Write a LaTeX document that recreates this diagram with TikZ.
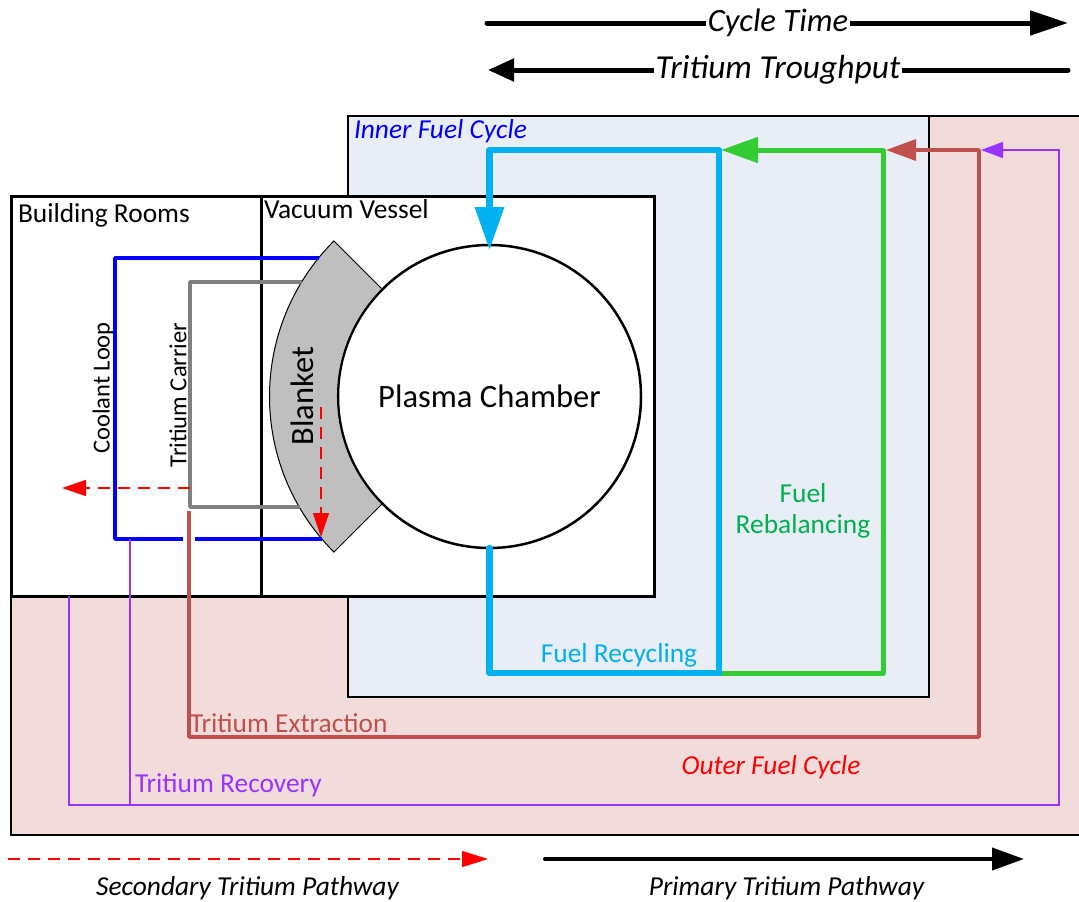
\documentclass[tikz,border=0pt]{standalone}
\usepackage{fontspec}
\setmainfont{Carlito}
\usetikzlibrary{arrows.meta}
\definecolor{coolblue}{HTML}{0000FF}
\definecolor{carrgray}{HTML}{808080}
\definecolor{fuelblue}{HTML}{00B0F0}
\definecolor{rebgreen}{HTML}{33CC33}
\definecolor{rebtext}{HTML}{00B050}
\definecolor{extred}{HTML}{C0504D}
\definecolor{recpurple}{HTML}{9933FF}
\definecolor{pinkfill}{HTML}{F2DCDB}
\definecolor{innerfill}{HTML}{E9EDF5}
\definecolor{blanketgray}{HTML}{BFBFBF}
\begin{document}
\begin{tikzpicture}[x=1pt,y=-1pt,
  lbl/.style={inner sep=0pt, outer sep=0pt, font=\fontsize{27.4}{32}\selectfont},
  biglbl/.style={inner sep=0pt, outer sep=0pt, font=\fontsize{32.6}{38}\selectfont},
  thickbox/.style={draw=black, line width=3pt, fill=white, inner sep=0pt, outer sep=0pt, anchor=north west},
  thinbox/.style={draw=black, line width=1.5pt},
  coolant/.style={draw=coolblue, line width=3.5pt, line join=round},
  carrier/.style={draw=carrgray, line width=3.5pt, line join=round},
  fuelline/.style={draw=fuelblue, line width=6.5pt, line join=round, line cap=round},
  rebline/.style={draw=rebgreen, line width=5pt, line join=round},
  extline/.style={draw=extred, line width=3.5pt, line join=round},
  recline/.style={draw=recpurple, line width=1.5pt},
  secpath/.style={draw=red, line width=1.5pt, dash pattern=on 12pt off 8pt},
  bigarrow/.style={draw=black, line width=5pt, line cap=round}
]
\useasboundingbox (0,0) rectangle (1079,902);
\clip (0,0) rectangle (1079,902);

% outer fuel cycle region
\path[fill=pinkfill, thinbox] (11,596) -- (11,835) -- (1095,835) -- (1095,116) -- (348,116) -- (348,596) -- cycle;
% inner fuel cycle region
\path[fill=innerfill, thinbox] (348,116) rectangle (929,697);

% building rooms and vacuum vessel
\node[thickbox, minimum width=250pt, minimum height=400pt] (br) at (11,196) {};
\node[thickbox, minimum width=393pt, minimum height=400pt] (vv) at (261,196) {};

% labels of regions
\node[lbl, anchor=west, text=coolblue] (ifc) at (354,131) {\itshape Inner Fuel Cycle};
\node[lbl, anchor=west] (brl) at (18,215) {Building Rooms};
\node[lbl, anchor=west] (vvl) at (264,209) {Vacuum Vessel};
\node[lbl, text=red] (ofc) at (771,767) {\itshape Outer Fuel Cycle};

% plasma chamber
\node[circle, draw=black, line width=2.5pt, fill=white, minimum size=303pt, inner sep=0pt, outer sep=0pt] (pc) at (489.5,396.5) {};
\node[biglbl] (pcl) at (pc.center) {Plasma Chamber};

% blanket
\path[fill=blanketgray, draw=black, line width=1pt]
  (333.94,240.94) coordinate (bk1)
  arc[start angle=135, end angle=225, radius=220pt] coordinate (bk2)
  -- (382,504)
  arc[start angle=225, end angle=135, radius=152pt] -- cycle;
\node[inner sep=0pt, font=\fontsize{32.5}{36}\selectfont, rotate=90] (bkl) at (302,396) {Blanket};

% coolant loop
\coordinate (clt) at (319,258);
\coordinate (clb) at (322,539);
\draw[coolant] (clt) -- (115,258) -- (115,539) -- (183,539);
\draw[coolant] (195,539) -- (clb);
\node[inner sep=0pt, font=\fontsize{24.5}{28}\selectfont, rotate=90] (cll) at (103,388) {Coolant Loop};

% tritium carrier
\coordinate (tct) at (302,282);
\coordinate (tcb) at (300,507);
\draw[carrier] (tct) -- (190,282) -- (190,507) -- (tcb);
\node[inner sep=0pt, font=\fontsize{24.5}{28}\selectfont, rotate=90] (tcl) at (178,395) {Tritium Carrier};

% secondary pathways
\coordinate (tap) at (190,488);
\coordinate (leak) at (62,488);
\draw[secpath, -{Triangle[length=24pt,width=16pt]}] (tap) -- (leak);
\coordinate (bls) at (321,407);
\coordinate (ble) at (321,537);
\draw[secpath, -{Triangle[length=24pt,width=16pt]}] (bls) -- (ble);

% tritium recovery (purple)
\coordinate (rc1) at (69,596);
\coordinate (rc2) at (130,539);
\coordinate (rcend) at (981,150);
\draw[recline, -{Triangle[length=22pt,width=16pt]}] (rc1) -- (69,805) -- (1059,805) -- (1059,150) -- (rcend);
\draw[recline] (rc2) -- (130,805);

% tritium extraction (red)
\coordinate (ex1) at (189,511);
\coordinate (exend) at (886,150);
\draw[extline, -{Triangle[length=30pt,width=21pt]}] (ex1) -- (189,737) -- (979,737) -- (979,150) -- (exend);

% fuel rebalancing (green)
\coordinate (rb1) at (719,673);
\coordinate (rbend) at (721,150);
\draw[rebline, -{Triangle[length=37pt,width=25pt]}] (rb1) -- (883,673) -- (883,150) -- (rbend);

% fuel recycling (blue)
\coordinate (pcin) at (489.5,250);
\draw[fuelline, -{Triangle[length=43pt,width=28pt]}] (pc.south) -- (489.5,673) -- (719,673) -- (719,150) -- (489.5,150) -- (pcin);

% pathway labels
\node[lbl, text=rebtext] (rbl1) at (803,493) {Fuel};
\node[lbl, text=rebtext] (rbl2) at (803,526) {Rebalancing};
\node[lbl, text=fuelblue] (frl) at (619,655) {Fuel Recycling};
\node[lbl, anchor=west, text=extred] (exl) at (190,723) {Tritium Extraction};
\node[lbl, anchor=west, text=recpurple] (rcl) at (135,785) {Tritium Recovery};

% top arrows
\coordinate (ct1) at (487,23);
\coordinate (ct2) at (1068,23);
\draw[bigarrow, -{Triangle[length=38pt,width=24pt]}] (ct1) -- (ct2);
\node[biglbl, fill=white, inner xsep=2pt] (ctl) at (778,23) {\itshape Cycle Time};
\coordinate (tt1) at (1068,70);
\coordinate (tt2) at (488,70);
\draw[bigarrow, -{Triangle[length=26pt,width=22pt]}] (tt1) -- (tt2);
\node[inner sep=0pt, outer sep=0pt, font=\fontsize{33.5}{38}\selectfont, fill=white, inner xsep=2pt] (ttl) at (778,70) {\itshape Tritium Troughput};

% legend
\coordinate (sp1) at (8,859);
\coordinate (sp2) at (488,859);
\draw[secpath, -{Triangle[length=26pt,width=16pt]}] (sp1) -- (sp2);
\node[lbl] (spl) at (247.5,888) {\itshape Secondary Tritium Pathway};
\coordinate (pp1) at (545,859);
\coordinate (pp2) at (1024,859);
\draw[draw=black, line width=4pt, line cap=round, -{Triangle[length=32pt,width=22pt]}] (pp1) -- (pp2);
\node[lbl] (ppl) at (786.5,888) {\itshape Primary Tritium Pathway};
\end{tikzpicture}
\end{document}
